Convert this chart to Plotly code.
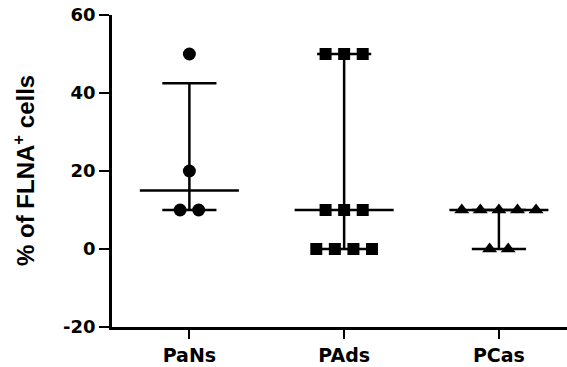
import numpy as np
import plotly.graph_objects as go

groups = ["PaNs", "PAds", "PCas"]
pans = [50, 20, 10, 10]
pads = [50, 50, 50, 10, 10, 10, 0, 0, 0, 0]
pcas = [10, 10, 10, 10, 10, 0, 0]
series = [pans, pads, pcas]
symbols = ["circle", "square", "triangle-up"]
marker_sizes = [13, 12, 13]

y_tickvals = [-20, 0, 20, 40, 60]
y_ticktext = ["-20", "0", "20", "40", "60"]

DODGE = 0.12
MED_HALF = 0.32
CAP_HALF = 0.175

fig = go.Figure()

# whiskers / quartile caps
lx, ly = [], []
for i, vals in enumerate(series):
    q1, med, q3 = np.percentile(vals, [25, 50, 75], method="weibull")
    lx += [i, i, None]
    ly += [q1, q3, None]
    lx += [i - CAP_HALF, i + CAP_HALF, None]
    ly += [q1, q1, None]
    lx += [i - CAP_HALF, i + CAP_HALF, None]
    ly += [q3, q3, None]
fig.add_trace(go.Scatter(x=lx, y=ly, mode="lines",
                         line=dict(color="black", width=2.5),
                         showlegend=False, hoverinfo="skip"))
# median lines
mx, my = [], []
for i, vals in enumerate(series):
    med = np.percentile(vals, 50, method="weibull")
    mx += [i - MED_HALF, i + MED_HALF, None]
    my += [med, med, None]
fig.add_trace(go.Scatter(x=mx, y=my, mode="lines",
                         line=dict(color="black", width=2.5),
                         showlegend=False, hoverinfo="skip"))

# points, spread horizontally within identical values
for i, vals in enumerate(series):
    xs, ys = [], []
    for v in sorted(set(vals), reverse=True):
        k = vals.count(v)
        for j in range(k):
            xs.append(i + (j - (k - 1) / 2) * DODGE)
            ys.append(v)
    fig.add_trace(go.Scatter(x=xs, y=ys, mode="markers",
                             marker=dict(symbol=symbols[i], size=marker_sizes[i],
                                         color="black", line=dict(width=0)),
                             showlegend=False))

fig.update_layout(
    width=567, height=367,
    margin=dict(l=112, r=0, t=15, b=40),
    plot_bgcolor="white", paper_bgcolor="white",
    xaxis=dict(range=[-0.5, 2.44], tickvals=[0, 1, 2], ticktext=groups,
               showgrid=False, zeroline=False, showline=True,
               linecolor="black", linewidth=2.5, ticks="outside",
               ticklen=9, tickwidth=2, tickcolor="black",
               tickfont=dict(family="DejaVu Sans", size=19, color="black", weight="bold")),
    yaxis=dict(range=[-20, 60], tickvals=y_tickvals, ticktext=y_ticktext,
               showgrid=False, zeroline=False, showline=True,
               linecolor="black", linewidth=2.5, ticks="outside",
               ticklen=10, tickwidth=2, tickcolor="black",
               tickfont=dict(family="DejaVu Sans", size=18, color="black", weight="bold")),
    annotations=[dict(text="% of FLNA<sup>+</sup> cells", textangle=-90,
                      xref="paper", yref="paper", x=-88 / 455, y=0.5,
                      xanchor="center", yanchor="middle", showarrow=False,
                      font=dict(family="Liberation Sans", size=24, color="black",
                                weight="bold"))],
)

fig.write_html("out.html", config={"displayModeBar": False},
               post_script="document.body.style.margin='0';document.body.style.overflow='hidden';")
